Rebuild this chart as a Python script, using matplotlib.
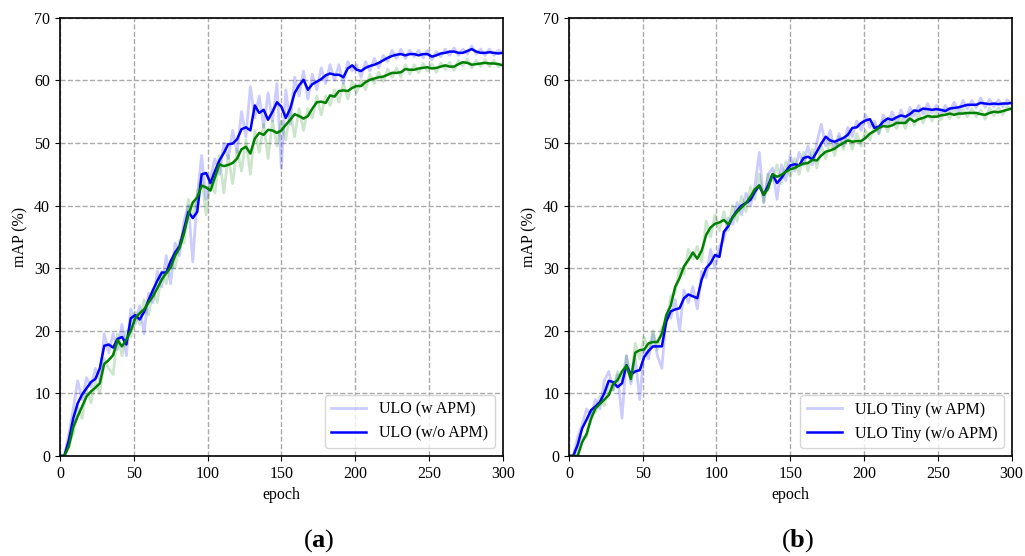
import numpy as np
import matplotlib
matplotlib.use('Agg')
import matplotlib.pyplot as plt

plt.rcParams['font.family'] = ['Liberation Serif', 'DejaVu Serif']
plt.rcParams['mathtext.fontset'] = 'custom'
plt.rcParams['mathtext.rm'] = 'Liberation Serif'
plt.rcParams['mathtext.bf'] = 'Liberation Serif:bold'

# epochs sampled every 3
epochs = np.arange(0, 301, 3)

# ---- (a) ULO ----
ulo_raw = [0, 0, 3.5, 7.5, 12, 9, 12.5, 11, 14, 12, 19.5, 16.5, 19.5, 17, 21, 16, 23.5, 21, 24, 19.5,
           26, 24.5, 29.5, 27, 32, 27.5, 34, 32, 37.5, 40, 31, 41.5, 48, 41, 44.5, 47.5, 45, 50, 47.5, 52,
           48.5, 55, 51, 59, 54, 57.5, 52.5, 58, 53.5, 59.5, 46, 58.5, 53, 60.5, 57.5, 61.5, 57, 61, 58.5, 62,
           59.5, 62.5, 60, 62.5, 59.5, 63, 61.5, 62.5, 60.5, 63, 61.5, 63.5, 62, 64, 63, 64.8, 63.5, 65, 63.5, 64.8,
           63.8, 64.8, 63.6, 64.8, 63.3, 64.6, 63.8, 65, 64, 65.2, 64, 65, 64.2, 65.5, 64.2, 65, 64, 65, 64, 64.8,
           64.4]
ulo_smooth = [0, 0, 2.5, 6, 8.4, 9.8, 10.8, 11.8, 12.3, 14, 17.6, 17.8, 17.3, 18.7, 19, 17.8, 22, 22.5, 21.8, 23,
              24.9, 26.5, 28, 29.3, 29.3, 31.1, 32.5, 33.5, 36.2, 39, 38, 39, 45, 45.2, 43.6, 45.5, 47.2, 48.4, 49.8, 49.9,
              50.6, 52.2, 52.5, 52, 56, 54.8, 55.3, 53.7, 55, 56.5, 55.8, 54, 55.5, 58, 59.2, 60.1, 58.5, 59.4, 59.8, 60.2,
              60.8, 61.1, 60.9, 60.9, 60.5, 61.9, 62.4, 61.7, 61.5, 62, 62.3, 62.5, 62.8, 63.2, 63.6, 63.9, 64.1, 64.2, 64, 64.2,
              64.2, 64, 64.2, 64.2, 63.8, 64, 64.3, 64.4, 64.6, 64.6, 64.4, 64.4, 64.7, 65, 64.6, 64.4, 64.4, 64.5, 64.4, 64.3,
              64.4]
ulo_g_raw = [0, 0, 2, 3.5, 8, 6, 10.5, 8.5, 12, 10, 15.5, 14, 13, 19.5, 16, 20, 19, 23, 21, 25,
             22.5, 26.5, 24.5, 29.5, 27.5, 31, 30, 34.5, 34, 41, 38, 42, 44.5, 38.5, 44, 42, 48, 42, 48, 43.5,
             49, 45.5, 50.5, 45, 52, 48.5, 53, 47.5, 53.5, 49.5, 53.5, 50.5, 55, 51, 55.5, 52, 55.5, 54, 57.5, 54.5,
             57.5, 56, 58.5, 56.5, 59.5, 57, 59.8, 58, 60, 58.5, 61, 59.5, 61.3, 59.8, 61.8, 60.5, 62, 60.5, 62.5, 61,
             62.5, 61.2, 62.7, 61.5, 62.6, 61.3, 62.8, 61.8, 62.9, 61.6, 63.2, 62.3, 63.4, 62, 63.2, 62.2, 63.3, 62.2, 63.2, 62.2,
             62.6]
ulo_g_smooth = [0, 0, 1.5, 4.6, 6.3, 7.9, 9.5, 10.3, 10.9, 11.6, 14.7, 15.3, 16.1, 18.5, 17.5, 18.6, 20, 22, 22.8, 23.4,
                24.5, 25.5, 26.8, 28.2, 29.2, 30.1, 32, 33.2, 35.5, 38.5, 40.5, 41.3, 43.2, 42.9, 42.4, 44.5, 46.6, 46.3, 46.5, 46.8,
                47.5, 49, 49.4, 48.3, 50.7, 51.6, 51.3, 52.1, 52, 51.6, 52, 52.9, 53.7, 54.6, 54.3, 53.9, 54.3, 55.5, 56.5, 56.6,
                56.4, 57.6, 57.4, 58.3, 58.4, 58.3, 58.8, 59.1, 59.1, 59.7, 60.1, 60.3, 60.5, 60.6, 60.9, 61.2, 61.2, 61.3, 61.8, 61.7,
                61.7, 61.9, 62, 62.1, 61.9, 62, 62.2, 62.4, 62.2, 62.2, 62.6, 62.9, 62.8, 62.5, 62.6, 62.7, 62.8, 62.7, 62.7, 62.6,
                62.4]

# ---- (b) ULO Tiny ----
tiny_raw = [0, 0, 3, 5, 7.5, 6.5, 9, 7.5, 12, 13.5, 10.5, 13, 6, 16, 11.5, 15.5, 9, 17, 15.5, 19.5,
            16, 14, 22.5, 22, 25, 20, 26.5, 24.5, 27, 23.5, 29.5, 28.5, 33, 30, 33.5, 34.5, 38, 37, 40.5, 38.5,
            42, 40, 43, 48.5, 40.5, 45, 46, 41, 46.5, 44, 48, 45.5, 48.5, 46.5, 49.5, 46.5, 50, 53, 49.5, 52,
            49, 51.5, 49.5, 52.5, 51, 53.5, 52, 54.5, 52.5, 53.5, 51.5, 54.5, 53, 55, 53.3, 55.3, 53.5, 55.7, 54.3, 56,
            54.6, 56.3, 54.8, 56, 54.6, 56, 55, 56.5, 55, 56.8, 55.4, 56.8, 55.6, 57.2, 55.7, 57, 55.8, 56.9, 55.8, 56.9,
            56.2]
tiny_smooth = [0, 0, 1.8, 4.4, 5.8, 7.3, 7.9, 8.6, 10, 12, 11.8, 11, 11.6, 14.5, 13, 13.5, 13.7, 15.8, 16.8, 17.5,
               17.5, 17.5, 21.5, 23.1, 23.4, 23.6, 25.2, 25.8, 25.5, 25.2, 28.2, 30, 30.8, 32.1, 31.8, 35.8, 36.7, 38.2, 39.2, 40,
               40.4, 40.9, 42.2, 43.2, 41.7, 43.2, 45, 43.6, 44.4, 45.5, 46.4, 46.6, 46.4, 47.6, 47.8, 47.4, 48.6, 49.9, 51, 50.4,
               50.2, 50.5, 50.8, 51.3, 52.4, 52.5, 53.2, 53.6, 53.8, 52.4, 52.6, 53.4, 53.9, 53.7, 54.1, 54.4, 54.2, 54.6, 55.2, 55.1,
               55.5, 55.4, 55.3, 55.4, 55.3, 55.1, 55.5, 55.6, 55.7, 55.9, 56.1, 56.1, 56.1, 56.4, 56.3, 56.2, 56.3, 56.2, 56.3, 56.3,
               56.4]
tiny_g_raw = [0, 0, 0.5, 3, 3, 7, 7, 9.5, 8, 11.5, 10.5, 13.5, 12, 16, 12, 18, 15.5, 19, 16.5, 20,
              17, 20.5, 21, 25.5, 26, 30, 29, 33, 31.5, 33.5, 31, 37.5, 35, 38.5, 36, 39, 36, 40, 37.5, 41.5,
              39, 43, 41, 45, 40.5, 45, 44, 46.5, 43.5, 47, 44.5, 47.5, 45, 48.5, 45.5, 49, 46, 49.5, 47.5, 50.5,
              48, 51, 49, 51.5, 49, 51.5, 49.5, 52, 50.5, 53, 51.5, 53.7, 51.8, 54, 52.3, 54.2, 52.3, 54.8, 52.8, 54.8,
              53.2, 55.2, 53.5, 55, 53.7, 55.3, 53.9, 55.4, 54, 55.5, 54.2, 55.5, 54.2, 55.3, 53.8, 55.6, 54.4, 55.6, 54.5, 55.9,
              55.3]
tiny_g_smooth = [0, 0, 0, 2.2, 3.5, 5.9, 7.6, 8.3, 9, 9.7, 11.5, 12.1, 13.5, 14.4, 12.3, 16.5, 16.9, 17, 18, 18.2,
                 18.2, 19.5, 22.5, 24, 27, 28.4, 30.3, 31.3, 32.5, 31.5, 32.8, 35.3, 36.5, 37.1, 37.3, 37.7, 37, 38.1, 39, 39.7,
                 40.4, 41.4, 42.6, 43.2, 41.7, 42.7, 45, 44.6, 44.9, 45.4, 45.8, 46, 46.4, 46.7, 46.8, 47.3, 47.2, 48, 48.6, 48.8,
                 49.1, 49.6, 50, 50.4, 50.2, 50.3, 50.3, 50.8, 51.5, 51.9, 52.4, 52.7, 52.6, 52.8, 53.2, 53.2, 53.2, 53.9, 53.4, 53.8,
                 54, 54.3, 54.2, 54.2, 54.4, 54.5, 54.7, 54.5, 54.7, 54.7, 54.8, 54.8, 54.8, 54.6, 54.5, 54.8, 55, 54.9, 55.1, 55.3,
                 55.5]

panels = [
    (ulo_raw, ulo_smooth, ulo_g_raw, ulo_g_smooth, 'ULO (w APM)', 'ULO (w/o APM)', r'($\mathbf{a}$)'),
    (tiny_raw, tiny_smooth, tiny_g_raw, tiny_g_smooth, 'ULO Tiny (w APM)', 'ULO Tiny (w/o APM)', r'($\mathbf{b}$)'),
]

fig = plt.figure(figsize=(10.25, 5.56), dpi=100)
axes = [fig.add_axes([0.0585, 0.18, 0.432, 0.788]),
        fig.add_axes([0.555, 0.18, 0.432, 0.788])]
cap_x = [0.311, 0.778]

for ax, (b_raw, b_sm, g_raw, g_sm, lab1, lab2, cap), cx in zip(axes, panels, cap_x):
    ax.plot(epochs, b_raw, color='blue', alpha=0.2, lw=2, label=lab1)
    ax.plot(epochs, g_raw, color='green', alpha=0.2, lw=2)
    ax.plot(epochs, b_sm, color='blue', lw=1.8, label=lab2)
    ax.plot(epochs, g_sm, color='green', lw=1.8)
    ax.set_xlim(0, 300)
    ax.set_ylim(0, 70)
    ax.set_xticks(np.arange(0, 301, 50))
    ax.set_yticks(np.arange(0, 71, 10))
    ax.grid(True, ls='--', color='#aaaaaa', lw=1)
    ax.set_axisbelow(True)
    ax.tick_params(labelsize=11.5)
    for sp in ax.spines.values():
        sp.set_linewidth(1.2)
    ax.set_xlabel('epoch', fontsize=11.5)
    ax.set_ylabel('mAP (%)', fontsize=11.5)
    ax.legend(loc='lower right', fontsize=11.5, handlelength=2.2)
    fig.text(cx, 0.003, cap, fontsize=19, ha='center', va='bottom')

plt.savefig('out.png', dpi=100)
